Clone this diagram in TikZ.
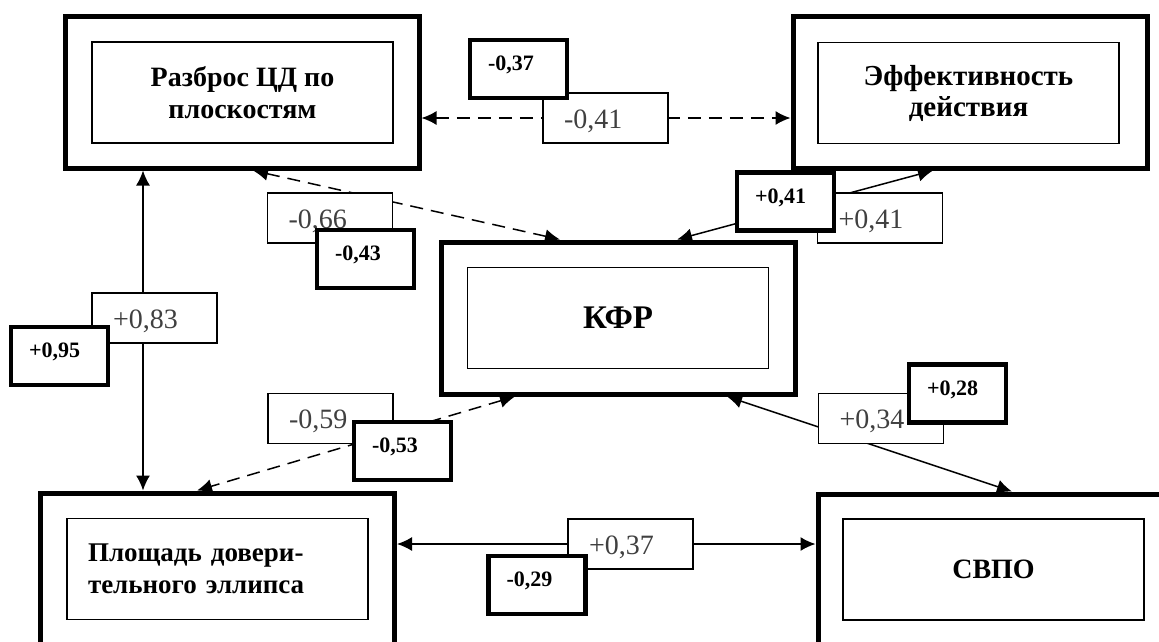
\documentclass[tikz,border=0pt]{standalone}
\usepackage{fontspec}
\setmainfont{Liberation Serif}
\usetikzlibrary{arrows.meta}

\tikzset{
  outerbox/.style={draw, line width=5pt, minimum width=354pt, minimum height=152pt, inner sep=0pt},
  innerbox/.style={draw, line width=1.6pt, minimum width=301pt, minimum height=101pt, align=center,
    font=\bfseries\fontsize{28}{32}\selectfont},
  thinlabel/.style={draw, line width=1.3pt, fill=white, minimum width=125pt, minimum height=50pt,
    text width=83pt, inner xsep=21pt, inner ysep=0pt, align=left, text height=20pt, text depth=0pt,
    text=black!75, font=\fontsize{28}{28}\selectfont},
  boldlabel/.style={draw, line width=4.5pt, fill=white, minimum width=97pt, minimum height=58pt,
    text width=61pt, inner xsep=18pt, inner ysep=0pt, align=left, text height=15pt, text depth=12pt,
    font=\bfseries\fontsize{22}{22}\selectfont},
  link/.style={line width=1.5pt},
  dashlink/.style={line width=1.5pt, dash pattern=on 13pt off 8pt},
}

\begin{document}
\begin{tikzpicture}[x=1pt,y=-1pt,>={Latex[length=15pt,width=14pt]}]
  \clip (0,0) rectangle (1159,641);
  % Main boxes
  \node[outerbox] (rzb) at (242,92) {};
  \node[innerbox] (rzbin) at (242.5,92.5) {Разброс ЦД по\\плоскостям};
  \node[outerbox] (eff) at (970,92) {};
  \node[innerbox, font=\bfseries\fontsize{29}{31}\selectfont] (effin) at (968.5,93) {Эффективность\\действия};
  \node[outerbox] (kfr) at (618.5,318) {};
  \node[innerbox, font=\bfseries\fontsize{33}{33}\selectfont] (kfrin) at (618,318) {КФР};
  \node[outerbox] (plo) at (217.5,569) {};
  \node[innerbox, text width=259pt, align=left, font=\bfseries\fontsize{27}{32}\selectfont] (ploin) at (217.5,569)
    {Площадь довери-\\тельного эллипса};
  \node[outerbox] (svpo) at (995,570) {};
  \node[innerbox, font=\bfseries\fontsize{28}{28}\selectfont] (svpoin) at (993.5,569.5) {СВПО};

  % Links
  \draw[dashlink,<->] ([yshift=-26pt]rzb.east) -- ([yshift=-26pt]rzb.east -| eff.west);
  \draw[link,<->] ([xshift=-99pt]rzb.south) -- ([xshift=-99pt]rzb.south |- plo.north);
  \draw[dashlink,<->] ([xshift=11pt]rzb.south) -- ([xshift=-58.5pt]kfr.north);
  \draw[link,<->] ([xshift=-37pt]eff.south) -- ([xshift=58.5pt]kfr.north);
  \draw[dashlink,<->] ([xshift=-103.5pt]kfr.south) -- ([xshift=-20.5pt]plo.north);
  \draw[link,<->] ([xshift=108.5pt]kfr.south) -- ([xshift=17pt]svpo.north);
  \draw[link,<->] ([yshift=25pt]plo.east) -- ([yshift=25pt]plo.east -| svpo.west);

  % Coefficients
  \node[thinlabel] (c41a) at (605.5,118) {-0,41};
  \node[boldlabel] (d37) at (518.5,69) {-0,37};
  \node[thinlabel] (c41b) at (880,218) {+0,41};
  \node[boldlabel] (d41) at (785.5,201.5) {+0,41};
  \node[thinlabel] (c66) at (330,218) {-0,66};
  \node[boldlabel] (d43) at (365.5,259) {-0,43};
  \node[thinlabel] (c83) at (154.5,318) {+0,83};
  \node[boldlabel] (d95) at (59.5,356) {+0,95};
  \node[thinlabel] (c59) at (330.5,418.5) {-0,59};
  \node[boldlabel] (d53) at (402.5,451) {-0,53};
  \node[thinlabel] (c34) at (881,418.5) {+0,34};
  \node[boldlabel] (d28) at (957.5,393.5) {+0,28};
  \node[thinlabel] (c37) at (630.5,544) {+0,37};
  \node[boldlabel] (d29) at (537,585) {-0,29};
\end{tikzpicture}
\end{document}
